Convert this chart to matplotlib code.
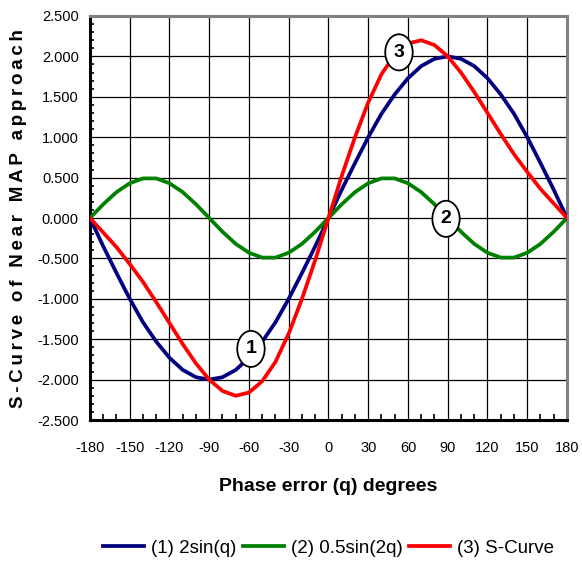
import matplotlib
matplotlib.use("Agg")
import matplotlib.pyplot as plt
from matplotlib.ticker import MultipleLocator, FormatStrFormatter

plt.rcParams['font.family'] = ['Liberation Sans', 'DejaVu Sans']
plt.rcParams['axes.unicode_minus'] = False

# phase error in degrees, sampled every 10 deg
fase = [-180, -170, -160, -150, -140, -130, -120, -110, -100, -90,
        -80, -70, -60, -50, -40, -30, -20, -10, 0,
        10, 20, 30, 40, 50, 60, 70, 80, 90,
        100, 110, 120, 130, 140, 150, 160, 170, 180]

# (1) 2sin(q)
curva1 = [0.00, -0.35, -0.68, -1.00, -1.29, -1.53, -1.73, -1.88, -1.97, -2.00,
          -1.97, -1.88, -1.73, -1.53, -1.29, -1.00, -0.68, -0.35, 0.00,
          0.35, 0.68, 1.00, 1.29, 1.53, 1.73, 1.88, 1.97, 2.00,
          1.97, 1.88, 1.73, 1.53, 1.29, 1.00, 0.68, 0.35, 0.00]

# (2) 0.5sin(2q)
curva2 = [0.00, 0.17, 0.32, 0.43, 0.49, 0.49, 0.43, 0.32, 0.17, 0.00,
          -0.17, -0.32, -0.43, -0.49, -0.49, -0.43, -0.32, -0.17, 0.00,
          0.17, 0.32, 0.43, 0.49, 0.49, 0.43, 0.32, 0.17, 0.00,
          -0.17, -0.32, -0.43, -0.49, -0.49, -0.43, -0.32, -0.17, 0.00]

# (3) S-Curve
curva3 = [0.00, -0.18, -0.36, -0.57, -0.79, -1.04, -1.30, -1.56, -1.80, -2.00,
          -2.14, -2.20, -2.16, -2.02, -1.78, -1.43, -1.00, -0.52, 0.00,
          0.52, 1.00, 1.43, 1.78, 2.02, 2.16, 2.20, 2.14, 2.00,
          1.80, 1.56, 1.30, 1.04, 0.79, 0.57, 0.36, 0.18, 0.00]

nombres = ['(1) 2sin(q)', '(2) 0.5sin(2q)', '(3) S-Curve']
colores = ['#000080', '#008000', '#FF0000']

# FIGURA
fig = plt.figure(figsize=(5.82, 5.61), dpi=100, facecolor='white')
ax = fig.add_axes([0.1546, 0.2513, 0.8196, 0.7202])

for datos, nombre, color in zip([curva1, curva2, curva3], nombres, colores):
    ax.plot(fase, datos, color=color, lw=2.7, label=nombre, zorder=3)

# EJES
ax.set_xlim(-180, 180)
ax.set_ylim(-2.5, 2.5)
ax.xaxis.set_major_locator(MultipleLocator(30))
ax.xaxis.set_minor_locator(MultipleLocator(10))
ax.yaxis.set_major_locator(MultipleLocator(0.5))
ax.yaxis.set_minor_locator(MultipleLocator(0.1))
ax.yaxis.set_major_formatter(FormatStrFormatter('%.3f'))
ax.grid(True, which='major', color='black', lw=0.9, zorder=1)

ax.tick_params(axis='both', which='both', direction='in', labelsize=10.5,
               top=False, right=False, color='black')
ax.tick_params(axis='x', which='major', length=0, pad=15)
ax.tick_params(axis='y', which='major', length=0, pad=8)
ax.tick_params(axis='x', which='minor', length=4, width=1.2)
ax.tick_params(axis='y', which='minor', length=3, width=1.2)

for lado in ['left', 'bottom']:
    ax.spines[lado].set_color('black')
    ax.spines[lado].set_linewidth(2.2)
for lado in ['top', 'right']:
    ax.spines[lado].set_color('#808080')
    ax.spines[lado].set_linewidth(2.2)

ax.set_xlabel('Phase error (q) degrees', fontsize=14, fontweight='bold', labelpad=17)

# titulo del eje y con letras espaciadas
titulo_y = '\u2009'.join('S-Curve of Near MAP approach')
fig.text(0.031, 0.611, titulo_y, rotation=90,
         fontsize=13.5, fontweight='bold', ha='center', va='center')

# ETIQUETAS DE CURVAS
burbuja = dict(boxstyle='ellipse,pad=0.22', fc='white', ec='black', lw=1.3)
for txt, xx, yy in [('1', -58.5, -1.62), ('2', 88.7, -0.01), ('3', 53.2, 2.05)]:
    ax.text(xx, yy, txt, fontsize=14, fontweight='bold', ha='center', va='center',
            bbox=burbuja, zorder=5)

# LEYENDA
fig.legend(loc='center', bbox_to_anchor=(0.5644, 0.023), ncol=3, frameon=False,
           fontsize=13.5, handlelength=2.2, columnspacing=0.35, handletextpad=0.35,
           borderpad=0, borderaxespad=0)

fig.savefig('out.png', dpi=100, facecolor='white')
